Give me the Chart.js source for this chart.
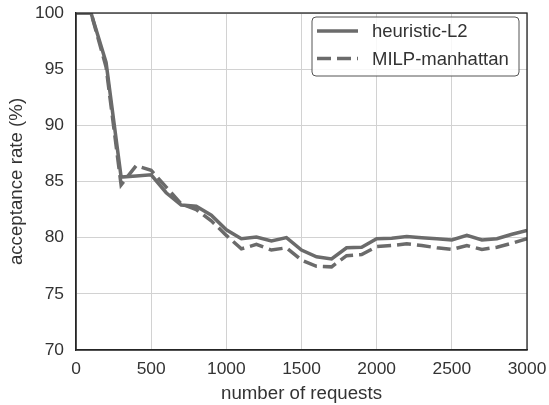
<!DOCTYPE html>
<html>
<head>
<meta charset="utf-8">
<script src="https://cdn.jsdelivr.net/npm/chart.js@4/dist/chart.umd.min.js"></script>
<style>
  html, body { margin: 0; padding: 0; background: #fff; }
  #wrap { width: 549px; height: 405px; }
</style>
</head>
<body>
<div id="wrap"><canvas id="chart" width="549" height="405"></canvas></div>
<script>
const requests = [0, 100, 200, 300, 400, 500, 600, 700, 800, 900, 1000, 1100, 1200, 1300, 1400, 1500,
                  1600, 1700, 1800, 1900, 2000, 2100, 2200, 2300, 2400, 2500, 2600, 2700, 2800, 2900, 3000];
const heuristicL2 = [100, 100, 95.6, 85.4, 85.5, 85.6, 84.0, 82.9, 82.8, 82.0, 80.7, 79.9, 80.05, 79.7, 80.0, 78.9,
                     78.3, 78.1, 79.1, 79.15, 79.9, 79.95, 80.1, 80.0, 79.9, 79.8, 80.2, 79.8, 79.9, 80.3, 80.65];
const milpManhattan = [100, 100, 95.2, 84.7, 86.4, 86.0, 84.5, 83.0, 82.5, 81.5, 80.2, 79.0, 79.4, 78.9, 79.1, 78.0,
                       77.45, 77.4, 78.4, 78.5, 79.2, 79.3, 79.45, 79.3, 79.1, 78.95, 79.3, 78.95, 79.15, 79.5, 79.9];
const xTicks = [0, 500, 1000, 1500, 2000, 2500, 3000];
const yTicks = [70, 75, 80, 85, 90, 95, 100];

const lineColor = '#6b6b6b';
const textColor = '#333333';
const fontFamily = '"Liberation Sans", Arial, sans-serif';

const toPoints = ys => requests.map((x, i) => ({ x: x, y: ys[i] }));

// no auto padding from the tick labels, the layout padding decides the plot area
const noPad = s => { s.paddingTop = 0; s.paddingBottom = 0; s.paddingLeft = 0; s.paddingRight = 0; };

// frame round the plot area + legend box in the upper right
const framePlugin = {
  id: 'frame',
  afterDraw(chart) {
    const { ctx, chartArea: a } = chart;
    ctx.save();
    ctx.strokeStyle = '#262626';
    ctx.lineWidth = 1.3;
    ctx.strokeRect(a.left, a.top, a.right - a.left, a.bottom - a.top);

    const bx = 312, by = 17, bw = 207, bh = 59, r = 4;
    ctx.beginPath();
    ctx.roundRect(bx, by, bw, bh, r);
    ctx.fillStyle = 'rgba(255,255,255,0.85)';
    ctx.fill();
    ctx.strokeStyle = '#555';
    ctx.lineWidth = 1;
    ctx.stroke();

    ctx.font = '18.5px ' + fontFamily;
    ctx.textBaseline = 'middle';
    chart.data.datasets.forEach((ds, i) => {
      const y = 31 + i * 27.5;
      ctx.beginPath();
      ctx.setLineDash(ds.borderDash || []);
      ctx.strokeStyle = ds.borderColor;
      ctx.lineWidth = ds.borderWidth;
      ctx.moveTo(317, y);
      ctx.lineTo(358, y);
      ctx.stroke();
      ctx.setLineDash([]);
      ctx.fillStyle = textColor;
      ctx.fillText(ds.label, 372, y + 1);
    });
    ctx.restore();
  }
};

new Chart(document.getElementById('chart'), {
  type: 'line',
  data: {
    datasets: [
      {
        label: 'heuristic-L2',
        data: toPoints(heuristicL2),
        borderColor: lineColor,
        borderWidth: 3.5,
        pointRadius: 0,
        tension: 0
      },
      {
        label: 'MILP-manhattan',
        data: toPoints(milpManhattan),
        borderColor: lineColor,
        borderWidth: 3.5,
        borderDash: [14, 6],
        pointRadius: 0,
        tension: 0
      }
    ]
  },
  options: {
    responsive: false,
    animation: false,
    layout: { padding: { left: 0, top: 13, right: 22, bottom: 0 } },
    plugins: {
      legend: { display: false },
      tooltip: { enabled: false }
    },
    scales: {
      x: {
        type: 'linear',
        min: 0,
        max: 3000,
        afterBuildTicks: s => { s.ticks = xTicks.map(v => ({ value: v })); },
        afterFit: s => { s.height = 55; noPad(s); },
        ticks: {
          font: { family: fontFamily, size: 17.4 }, color: textColor, padding: 9, maxRotation: 0,
          callback: v => String(v)
        },
        grid: { color: '#d2d2d2', lineWidth: 1, drawTicks: false },
        border: { color: '#262626', width: 1.3 },
        title: {
          display: true,
          text: 'number of requests',
          font: { family: fontFamily, size: 18.7 },
          color: textColor,
          padding: { top: 0, bottom: 0 }
        }
      },
      y: {
        min: 70,
        max: 100,
        afterBuildTicks: s => { s.ticks = yTicks.map(v => ({ value: v })); },
        afterFit: s => { s.width = 76; noPad(s); },
        ticks: {
          font: { family: fontFamily, size: 17.4 }, color: textColor, padding: 12,
          callback: v => String(v)
        },
        grid: { color: '#d2d2d2', lineWidth: 1, drawTicks: false },
        border: { color: '#262626', width: 1.3 },
        title: {
          display: true,
          text: 'acceptance rate (%)',
          font: { family: fontFamily, size: 18.7 },
          color: textColor,
          padding: { top: 6, bottom: 0 }
        }
      }
    }
  },
  plugins: [framePlugin]
});
</script>
</body>
</html>
